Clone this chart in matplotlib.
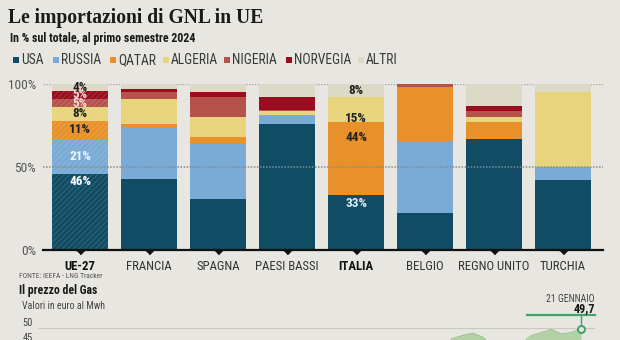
import matplotlib.pyplot as plt
import numpy as np
from matplotlib.patches import Rectangle
from matplotlib.transforms import blended_transform_factory

# quote % delle importazioni di GNL, primo semestre 2024
countries = ['UE-27', 'FRANCIA', 'SPAGNA', 'PAESI BASSI', 'ITALIA', 'BELGIO', 'REGNO UNITO', 'TURCHIA']
usa = [46, 43, 31, 76, 33, 22.5, 67, 42]
russia = [21, 31, 33, 5.5, 0, 43, 0, 8]
qatar = [11, 2, 4, 0, 44, 32.5, 10, 0]
algeria = [8, 15, 12, 2.5, 15, 0, 3, 45]
nigeria = [5, 4, 12, 0.5, 0, 2, 4, 0]
norvegia = [5, 2, 3, 7.5, 0, 0, 3, 0]
altri = [4, 3, 5, 8, 8, 0, 13, 5]
names = ['USA', 'RUSSIA', 'QATAR', 'ALGERIA', 'NIGERIA', 'NORVEGIA', 'ALTRI']

# prezzo del gas (euro/MWh), valori settimanali fino al 21 gennaio
gas_price = [30, 29, 28, 27, 26, 25, 24, 25, 26, 27,
             28, 27, 28, 30, 31, 33, 32, 33, 34, 35,
             35, 34, 36, 34, 33, 32, 33, 36, 38, 40,
             39, 38, 36, 36, 37, 37, 39, 40, 41, 42,
             43, 44, 46.5, 47.5, 48.3, 47, 44, 42, 43, 45,
             47.5, 48.5, 49.5, 48, 48.5, 49.7]

BG = '#e8e6e1'
colors = ['#104c63', '#7aaad6', '#e8912a', '#e7d47c', '#b5524c', '#9a0d1e', '#dcd9c7']
plt.rcParams['font.family'] = ['Roboto Condensed', 'Roboto', 'DejaVu Sans']
plt.rcParams['hatch.linewidth'] = 0.5

fig = plt.figure(figsize=(6.2, 3.4), dpi=100, facecolor=BG)


def fx(px):
    return px / 620


def fy(py):
    return 1 - py / 340


# titoli
fig.text(fx(8), fy(18), 'Le importazioni di GNL in UE', family=['Liberation Serif', 'DejaVu Serif'],
         weight='bold', size=14.1, color='#1a1a1a', va='center')
fig.text(fx(10), fy(38.5), 'In % sul totale, al primo semestre 2024', weight='bold', size=8.6,
         color='#1a1a1a', va='center')

# legenda
legend_x = [13, 53, 110, 163, 224, 286, 358]
for lx, name, c in zip(legend_x, names, colors):
    fig.add_artist(Rectangle((fx(lx), fy(63)), 6 / 620, 6 / 340, transform=fig.transFigure,
                             facecolor=c, edgecolor='none'))
    fig.text(fx(lx + 8), fy(60), name, size=9.8, color='#3a3a3a', va='center')

# barre impilate
ax = fig.add_axes([fx(43), fy(250), (603 - 43) / 620, (250 - 84) / 340])
ax.set_facecolor(BG)
x = np.arange(len(countries))
series = [usa, russia, qatar, algeria, nigeria, norvegia, altri]
bottoms = []
bottom = np.zeros(len(countries))
for vals, c in zip(series, colors):
    ax.bar(x, vals, bottom=bottom, width=0.81, color=c, linewidth=0, zorder=2)
    bottoms.append(bottom.copy())
    bottom = bottom + np.array(vals)

# tratteggio sulla barra UE-27
ue_h = bottoms[6][0]
ax.bar(0, ue_h, width=0.81, facecolor='none', edgecolor=(1, 1, 1, 0.2), hatch='//////',
       linewidth=0, zorder=2.5)

ax.axhline(50, color='#8a8a8a', lw=1.1, ls=(0, (1, 1)), zorder=3)
ax.axhline(100, color='#aaaaaa', lw=1.0, ls=(0, (1, 1)), zorder=1)

# etichette percentuali
label_pos = {(0, 0): ('top', -4.5), (4, 0): ('top', -5), (4, 2): ('top', -9), (4, 3): ('bottom', 2.5)}
label_col = {(0, 0): 'white', (0, 1): '#eef4fb', (0, 4): '#f7dada', (0, 5): '#f7dada',
             (4, 0): '#d8edf6'}
for b in [0, 4]:
    for s in range(len(series)):
        v = series[s][b]
        if v <= 0:
            continue
        lo = bottoms[s][b]
        mode, off = label_pos.get((b, s), ('center', 0))
        if mode == 'top':
            yy = lo + v + off
        elif mode == 'bottom':
            yy = lo + off
        else:
            yy = lo + v / 2
        ax.text(b, yy, f'{v:.0f}%', ha='center', va='center', size=9.5, weight='bold',
                color=label_col.get((b, s), '#222222'), zorder=5)

ax.set_xlim(-0.54, 7.58)
ax.set_ylim(0, 100)
for side in ['top', 'right', 'left']:
    ax.spines[side].set_visible(False)
ax.spines['bottom'].set_linewidth(1.6)
ax.spines['bottom'].set_color('#111111')
ax.spines['bottom'].set_zorder(4)
ax.set_yticks([0, 50, 100], ['0%', '50%', '100%'])
ax.set_xticks(x, countries)
ax.tick_params(length=0, labelsize=9.6, labelcolor='#555555', pad=5)
ax.tick_params(axis='x', labelsize=9.2, labelcolor='#333333', pad=7)
for lab in ax.get_xticklabels():
    if lab.get_text() in ('UE-27', 'ITALIA'):
        lab.set_weight('bold')
        lab.set_color('#111111')

ax.plot(x, np.zeros(len(x)), linestyle='none', marker=[(-1, 0), (1, 0), (0, -1)], ms=6,
        color='#111111', clip_on=False, zorder=4)

# sezione prezzo del gas
fig.text(fx(19), fy(276), 'FONTE: IEEFA - LNG Tracker', size=5.4, color='#555555', va='center')
fig.text(fx(19), fy(290.5), 'Il prezzo del Gas', weight='bold', size=8.5, color='#1a1a1a', va='center')
fig.text(fx(22), fy(306), 'Valori in euro al Mwh', size=7.2, color='#444444', va='center')
fig.text(fx(595), fy(299), '21 GENNAIO', size=7, color='#444444', va='center', ha='right')
fig.text(fx(595), fy(308.5), f'{gas_price[-1]:.1f}'.replace('.', ','), size=8.8, weight='bold',
         color='#1a1a1a', va='center', ha='right')

pax = fig.add_axes([fx(38), fy(400), (595 - 38) / 620, 78 / 340])
pax.set_facecolor('none')
t = np.arange(len(gas_price))
pax.fill_between(t, 0, gas_price, color='#b3d1a6', lw=0, zorder=2)
pax.plot(t, gas_price, color='#9cc48f', lw=0.8, zorder=2)
pax.set_xlim(0, (len(gas_price) - 1) / 0.975)
pax.set_ylim(26, 52)
pax.set_yticks([45, 50])
pax.grid(axis='y', color='#c9c7c1', lw=0.8, zorder=1)
pax.tick_params(length=0, labelsize=7.5, labelcolor='#444444', pad=4)
for lab in pax.get_yticklabels():
    lab.set_verticalalignment('bottom')
pax.set_xticks([])
for side in pax.spines:
    pax.spines[side].set_visible(False)

green = '#3fa46a'
tr = blended_transform_factory(pax.transAxes, pax.transData)
pax.plot([0.878, 1.0], [54.3, 54.3], color=green, lw=1.6, transform=tr, clip_on=False)
pax.plot([t[-1], t[-1]], [54.3, gas_price[-1]], color=green, lw=1.0, clip_on=False)
pax.plot(t[-1], gas_price[-1], 'o', ms=5, mfc=BG, mec=green, mew=1.4, clip_on=False, zorder=5)

fig.savefig('out.png', dpi=100, facecolor=BG)
